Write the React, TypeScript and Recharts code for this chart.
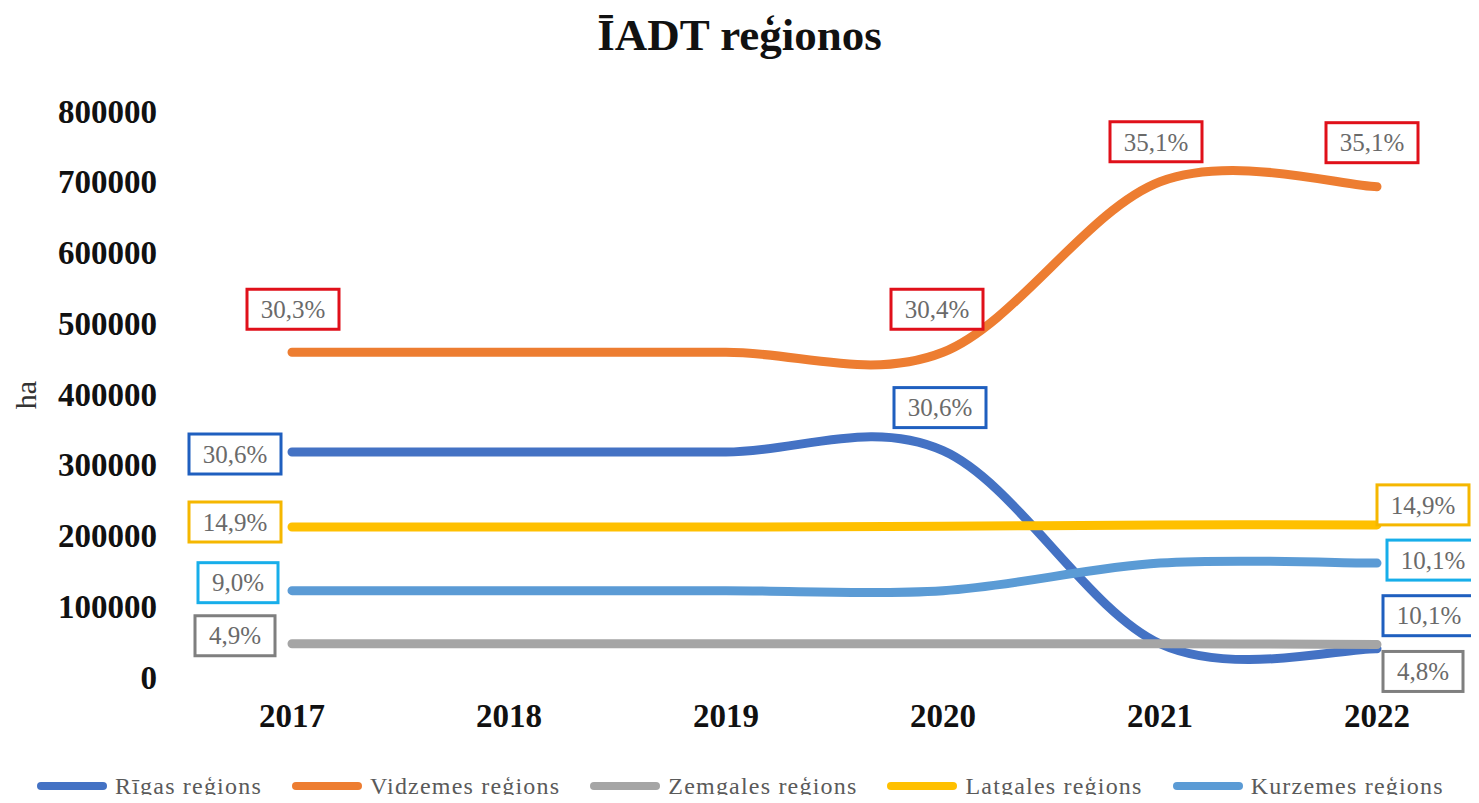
import { LineChart, Line, XAxis, YAxis, LabelList } from "recharts";

const YEARS = ["2017", "2018", "2019", "2020", "2021", "2022"];
const Y_TICKS = [0, 100000, 200000, 300000, 400000, 500000, 600000, 700000, 800000];

// hectares per region
const RIGA = [318000, 318000, 318000, 320000, 47000, 40000];
const VIDZEME = [459000, 459000, 459000, 459000, 700000, 693000];
const ZEMGALE = [47000, 47000, 47000, 47000, 47000, 46000];
const LATGALE = [212000, 212000, 212000, 213000, 215000, 215000];
const KURZEME = [122000, 122000, 122000, 122000, 161000, 161000];

// share labels shown in boxes
const RIGA_LBL = ["30,6%", "", "", "30,6%", "", "10,1%"];
const VIDZEME_LBL = ["30,3%", "", "", "30,4%", "35,1%", "35,1%"];
const ZEMGALE_LBL = ["4,9%", "", "", "", "", "4,8%"];
const LATGALE_LBL = ["14,9%", "", "", "", "", "14,9%"];
const KURZEME_LBL = ["9,0%", "", "", "", "", "10,1%"];

const SERIES = [
  { key: "riga", name: "Rīgas reģions", values: RIGA, labels: RIGA_LBL, color: "#4472C4", box: "#1F5FBF" },
  { key: "vidzeme", name: "Vidzemes reģions", values: VIDZEME, labels: VIDZEME_LBL, color: "#ED7D31", box: "#E0101A" },
  { key: "zemgale", name: "Zemgales reģions", values: ZEMGALE, labels: ZEMGALE_LBL, color: "#A5A5A5", box: "#7F7F7F" },
  { key: "latgale", name: "Latgales reģions", values: LATGALE, labels: LATGALE_LBL, color: "#FFC000", box: "#F5B700" },
  { key: "kurzeme", name: "Kurzemes reģions", values: KURZEME, labels: KURZEME_LBL, color: "#5B9BD5", box: "#17AEEA" },
];

// label box offsets from the point (dx, dy), per series and year index
const LABEL_OFFSET: Record<string, Record<number, [number, number]>> = {
  riga: { 0: [-57, 2], 3: [-3, -43], 5: [52, -33] },
  vidzeme: { 0: [1, -43], 3: [-6, -43], 4: [-4, -40], 5: [-5, -44] },
  zemgale: { 0: [-57, -8], 5: [46, 27] },
  latgale: { 0: [-57, -5], 5: [46, -20] },
  kurzeme: { 0: [-54, -8], 5: [56, -3] },
};

const rows = YEARS.map((year, i) => {
  const row: any = { year };
  SERIES.forEach((s) => {
    row[s.key] = s.values[i];
    row[s.key + "Lbl"] = s.labels[i];
  });
  return row;
});

// Excel-style smoothed line (Catmull-Rom through the points)
const smoothCurve = (context: any) => {
  let pts: number[][] = [];
  return {
    areaStart() {},
    areaEnd() {},
    lineStart() {
      pts = [];
    },
    point(x: number, y: number) {
      pts.push([+x, +y]);
    },
    lineEnd() {
      if (!pts.length) return;
      context.moveTo(pts[0][0], pts[0][1]);
      for (let i = 0; i < pts.length - 1; i++) {
        const p0 = pts[i - 1] || pts[i];
        const p1 = pts[i];
        const p2 = pts[i + 1];
        const p3 = pts[i + 2] || pts[i + 1];
        context.bezierCurveTo(
          p1[0] + (p2[0] - p0[0]) / 6,
          p1[1] + (p2[1] - p0[1]) / 6,
          p2[0] - (p3[0] - p1[0]) / 6,
          p2[1] - (p3[1] - p1[1]) / 6,
          p2[0],
          p2[1]
        );
      }
    },
  };
};

const labelBox = (key: string, stroke: string) => (props: any) => {
  const { x, y, value, index } = props;
  const off = LABEL_OFFSET[key][index];
  if (!value || !off) return null;
  const cx = x + off[0];
  const cy = y + off[1];
  const w = String(value).length * 12 + 32;
  const h = 40;
  return (
    <g>
      <rect x={cx - w / 2} y={cy - h / 2} width={w} height={h} fill="#fff" stroke={stroke} strokeWidth={3} />
      <text
        x={cx}
        y={cy}
        dy="0.35em"
        textAnchor="middle"
        fontFamily='"Liberation Serif", serif'
        fontSize={25}
        fill="#6a6a6a"
      >
        {value}
      </text>
    </g>
  );
};

const App = () => {
  return (
    <div style={{ position: "relative", width: 1463, height: 787, fontFamily: '"Liberation Serif", serif' }}>
      <div
        style={{
          position: "absolute",
          top: 5,
          left: 0,
          width: 1463,
          textAlign: "center",
          fontSize: 45,
          lineHeight: "45px",
          fontWeight: "bold",
          color: "#111",
        }}
      >
        ĪADT reģionos
      </div>
      <div
        style={{
          position: "absolute",
          left: 3,
          top: 372,
          width: 30,
          height: 30,
          fontSize: 30,
          lineHeight: "30px",
          color: "#333",
          transform: "rotate(-90deg)",
          textAlign: "center",
        }}
      >
        ha
      </div>
      <div style={{ position: "absolute", top: 0, left: 0 }}>
        <LineChart width={1463} height={787} data={rows} margin={{ top: 103, right: 94, bottom: 88, left: 0 }}>
          <XAxis
            dataKey="year"
            scale="point"
            height={30}
            padding={{ left: 0, right: 0 }}
            axisLine={false}
            tickLine={false}
            tickSize={0}
            tickMargin={27}
            tick={{ fontSize: 33, fontWeight: "bold", fill: "#111", fontFamily: '"Liberation Serif", serif' }}
          />
          <YAxis
            width={284}
            domain={[0, 800000]}
            ticks={Y_TICKS}
            interval={0}
            axisLine={false}
            tickLine={false}
            tickSize={0}
            tickMargin={135}
            tick={{ fontSize: 33, fontWeight: "bold", fill: "#111", fontFamily: '"Liberation Serif", serif' }}
          />
          {SERIES.map((s) => (
            <Line
              key={s.key}
              dataKey={s.key}
              name={s.name}
              type={smoothCurve as any}
              stroke={s.color}
              strokeWidth={9}
              strokeLinecap="round"
              dot={false}
              activeDot={false}
              isAnimationActive={false}
            >
              <LabelList dataKey={s.key + "Lbl"} content={labelBox(s.key, s.box)} />
            </Line>
          ))}
        </LineChart>
      </div>
      <div
        style={{
          position: "absolute",
          top: 766,
          left: 29,
          display: "flex",
          alignItems: "center",
          gap: 30,
          fontSize: 24,
          lineHeight: "24px",
          letterSpacing: 1.2,
          color: "#5a5a5a",
          whiteSpace: "nowrap",
        }}
      >
        {SERIES.map((s) => (
          <div key={s.key} style={{ display: "flex", alignItems: "center" }}>
            <div style={{ width: 70, height: 8, borderRadius: 4, background: s.color, marginRight: 8 }} />
            <span>{s.name}</span>
          </div>
        ))}
      </div>
    </div>
  );
};

export default App;
